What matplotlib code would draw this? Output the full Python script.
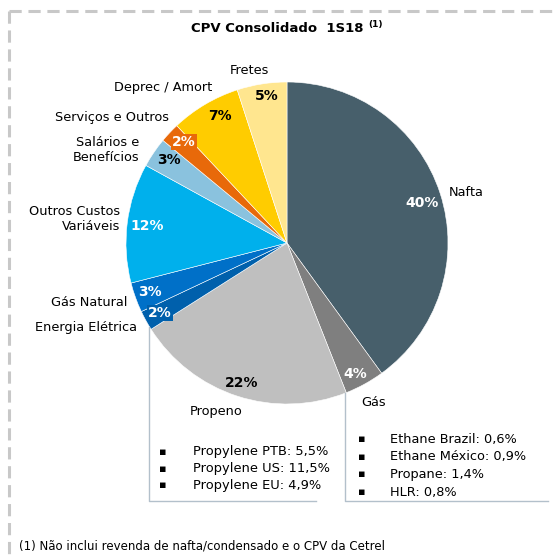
import matplotlib as mpl
mpl.use('Agg')
from matplotlib import pyplot as plt

# slices, clockwise from the top
categories = ['Nafta', 'Gás', 'Propeno', 'Energia Elétrica', 'Gás Natural',
              'Outros Custos Variáveis', 'Salários e Benefícios', 'Serviços e Outros',
              'Deprec / Amort', 'Fretes']
shares = [40, 4, 22, 2, 3, 12, 3, 2, 7, 5]
colors = ['#475f6b', '#7f7f7f', '#bfbfbf', '#0060ac', '#0070c8', '#00b0ec',
          '#8ac2de', '#e8690a', '#ffcc00', '#ffe68f']
pct_colors = ['white', 'white', 'black', 'white', 'white', 'white',
              'black', 'white', 'black', 'black']

propeno_items = ['Propylene PTB: 5,5%', 'Propylene US: 11,5%', 'Propylene EU: 4,9%']
gas_items = ['Ethane Brazil: 0,6%', 'Ethane México: 0,9%', 'Propane: 1,4%', 'HLR: 0,8%']

plt.rcParams['font.family'] = ['DejaVu Sans']

fig = plt.figure(figsize=(5.54, 5.56), dpi=100)
ax = fig.add_axes([0, 0, 1, 1])

# pixel-like coordinates, y grows downward
cx, cy, r = 287, 243, 161
ax.pie(shares, colors=colors, startangle=-90, counterclock=True,
       center=(cx, cy), radius=r,
       wedgeprops=dict(edgecolor='#ffffff', linewidth=0.4, alpha=1))
ax.set_xlim(0, 554)
ax.set_ylim(556, 0)
ax.set_aspect('equal')
ax.axis('off')

# dashed frame (top and left only visible)
ax.plot([9, 554], [11, 11], color='#c8c8c8', lw=2.2, ls=(0, (4, 2.2)))
ax.plot([9, 9], [11, 556], color='#c8c8c8', lw=2.2, ls=(0, (4, 2.2)))

ax.text(277, 28, 'CPV Consolidado  1S18', ha='center', va='center',
        fontsize=9.5, fontweight='bold')
ax.text(368, 25, '(1)', ha='left', va='center', fontsize=6.5, fontweight='bold')

# category labels
lab = dict(fontsize=9.3, va='center')
ax.text(249, 71, 'Fretes', ha='center', **lab)
ax.text(212, 88, 'Deprec / Amort', ha='right', **lab)
ax.text(169, 118, 'Serviços e Outros', ha='right', **lab)
ax.text(139, 150, 'Salários e\nBenefícios', ha='right', linespacing=1.2, **lab)
ax.text(120, 219, 'Outros Custos\nVariáveis', ha='right', linespacing=1.2, **lab)
ax.text(127, 302, 'Gás Natural', ha='right', **lab)
ax.text(137, 328, 'Energia Elétrica', ha='right', **lab)
ax.text(449, 192, 'Nafta', ha='left', **lab)
ax.text(361, 402, 'Gás', ha='left', **lab)
ax.text(190, 412, 'Propeno', ha='left', **lab)

# percentage labels
pct_pos = [(422, 203), (355, 374), (242, 383), (160, 313), (150, 292),
           (147, 226), (169, 160), (184, 142), (220, 116), (267, 96)]
for i, (x, y) in enumerate(pct_pos):
    box = None
    if categories[i] in ('Energia Elétrica', 'Serviços e Outros'):
        box = dict(boxstyle='square,pad=0.1', fc=colors[i], ec='none')
    ax.text(x, y, '{0}%'.format(shares[i]), ha='center', va='center',
            fontsize=10, fontweight='bold', color=pct_colors[i], bbox=box)

# connector boxes
line_c = '#b3c0cb'
ax.plot([149, 149, 316], [327, 501, 501], color=line_c, lw=1)
ax.plot([345, 345, 548], [393, 501, 501], color=line_c, lw=1)

for k, item in enumerate(propeno_items):
    y = 452 + k * 16.5
    ax.text(163, y, '▪', ha='center', va='center', fontsize=8)
    ax.text(193, y, item, ha='left', va='center', fontsize=9.4)
for k, item in enumerate(gas_items):
    y = 439 + k * 17.7
    ax.text(362, y, '▪', ha='center', va='center', fontsize=8)
    ax.text(390, y, item, ha='left', va='center', fontsize=9.3)

ax.text(19, 546, '(1) Não inclui revenda de nafta/condensado e o CPV da Cetrel',
        ha='left', va='center', fontsize=8.5)

fig.savefig('out.png', dpi=100)
